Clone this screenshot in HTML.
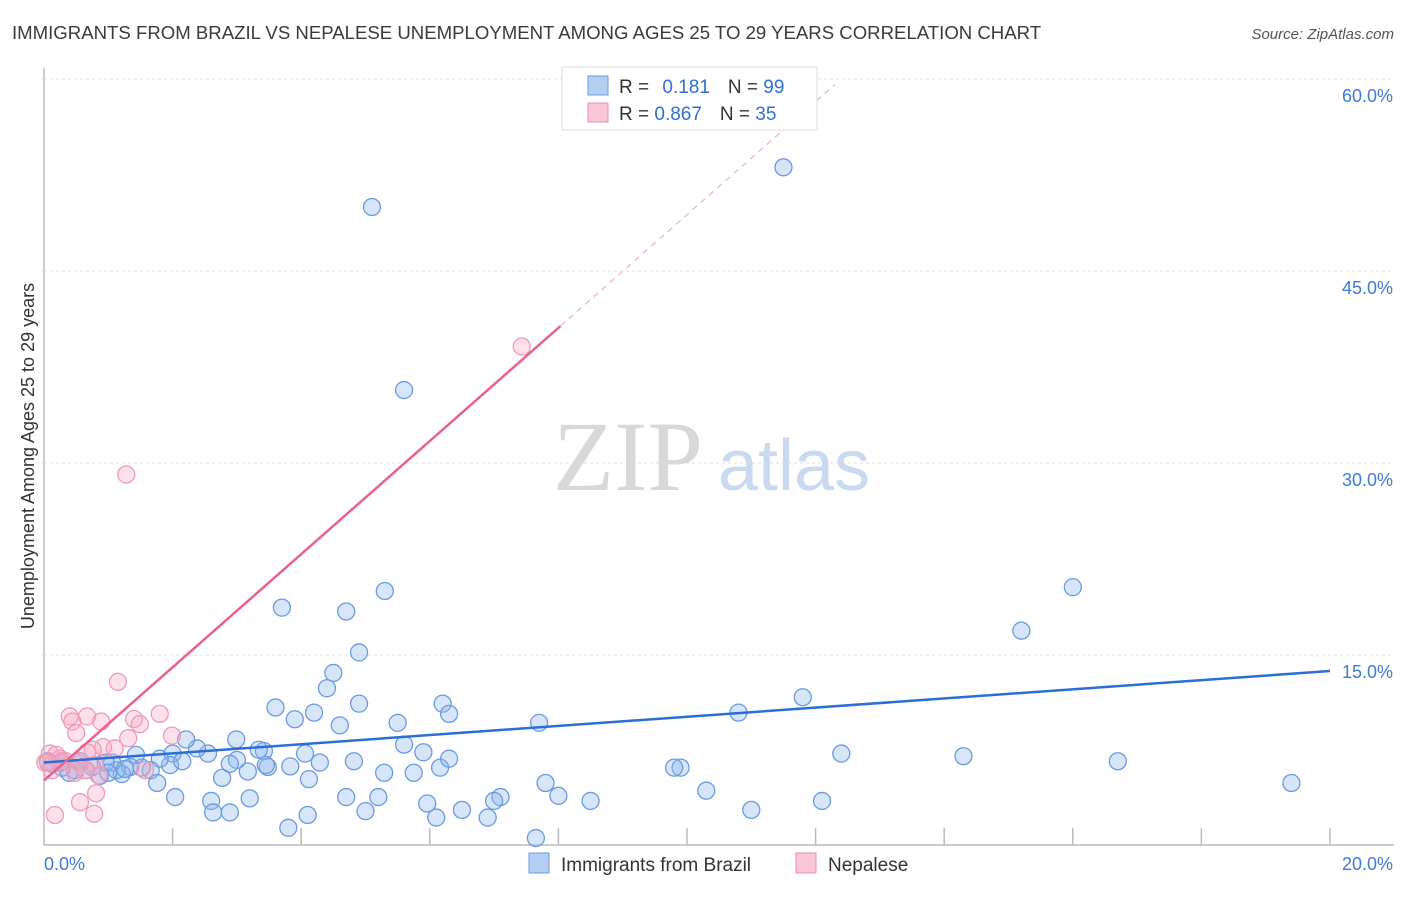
<!DOCTYPE html>
<html><head><meta charset="utf-8"><style>
body{margin:0;background:#fff;font-family:"Liberation Sans",sans-serif}
svg text{font-family:"Liberation Sans",sans-serif}
</style></head><body>
<svg id="c" width="1406" height="892" xmlns="http://www.w3.org/2000/svg">
<text x="12" y="39" font-size="18.6" fill="#3a3a3a">IMMIGRANTS FROM BRAZIL VS NEPALESE UNEMPLOYMENT AMONG AGES 25 TO 29 YEARS CORRELATION CHART</text>
<text x="1394" y="39" font-size="15" fill="#555" font-style="italic" text-anchor="end">Source: ZipAtlas.com</text>
<text x="0" y="0" transform="translate(34,456) rotate(-90)" font-size="18" fill="#333" text-anchor="middle">Unemployment Among Ages 25 to 29 years</text>
<g><text x="553" y="490" font-size="100" style="font-family:'Liberation Serif',serif" fill="#d8d8d8">ZIP</text><text x="718" y="490" font-size="72" fill="#c8d9f0">atlas</text></g>
<g id="grid"></g><g id="marks"></g><g id="lines"></g>
<g>
<rect x="562" y="67" width="255" height="63" fill="#fff" stroke="#ddd"/>
<rect x="588" y="76" width="20" height="19" fill="#b5cff3" stroke="#6a9be0"/>
<rect x="588" y="103" width="20" height="19" fill="#f8c6d6" stroke="#ea8faf"/>
<text x="619" y="93" font-size="19" fill="#333">R = <tspan fill="#2f6fd6" dx="8">0.181</tspan><tspan dx="18" fill="#333">N = </tspan><tspan fill="#2f6fd6">99</tspan></text>
<text x="619" y="120" font-size="19" fill="#333">R = <tspan fill="#2f6fd6">0.867</tspan><tspan dx="18" fill="#333">N = </tspan><tspan fill="#2f6fd6">35</tspan></text>
</g>
<g>
<rect x="529" y="853" width="20" height="20" fill="#b5cff3" stroke="#6a9be0"/>
<text x="561" y="871" font-size="19" fill="#333">Immigrants from Brazil</text>
<rect x="796" y="853" width="20" height="20" fill="#f8c6d6" stroke="#ea8faf"/>
<text x="828" y="871" font-size="19" fill="#333">Nepalese</text>
</g>
</svg>
<script>
const yTicks=[15,30,45,60];
const xTickLabels=["0.0%","20.0%"];
const blueX=[11.5,5.1,5.6,16,3.7,4.7,5.3,15.2,4.9,4.5,4.4,4.9,6.2,6.3,3.6,11.8,10.8,4.2,3.9,5.5,7.7,4.6,5.6,5.9,12.4,14.3,16.7,19.4,9.9,9.8,10.3,7.8,8.0,8.5,11.0,12.1,7.1,7.0,5.2,4.7,5.96,6.5,6.1,6.9,7.65,5.0,4.1,3.8,3.17,3.42,3.34,3.0,2.99,2.55,2.38,2.21,2.0,1.96,2.15,1.8,1.66,1.52,1.43,1.34,1.21,1.13,1.06,0.87,0.96,0.75,0.65,0.48,0.39,0.28,0.12,0.25,0.06,1.0,1.26,1.76,2.04,2.6,2.63,2.89,3.2,2.77,2.89,3.48,3.83,4.12,4.29,4.82,5.29,5.75,6.16,6.3,4.06,3.45,0.56];
const blueY=[53.1,50.0,35.7,20.3,18.7,18.4,20.0,16.9,15.2,13.6,12.4,11.2,11.2,10.4,10.9,11.7,10.5,10.5,9.98,9.7,9.7,9.5,8.0,7.4,7.3,7.1,6.7,5.0,6.2,6.2,4.4,5.0,4.0,3.6,2.9,3.6,3.9,3.6,3.9,3.9,3.4,2.9,2.3,2.3,0.7,2.8,2.5,1.5,5.9,7.5,7.6,6.8,8.4,7.3,7.7,8.4,7.3,6.4,6.7,6.9,6.0,6.2,7.2,6.25,5.7,6.0,6.6,5.55,6.6,6.25,6.0,6.0,5.8,6.2,6.5,6.6,6.7,5.8,6.1,5.0,3.9,3.6,2.7,2.7,3.8,5.4,6.5,6.25,6.3,5.3,6.6,6.7,5.8,5.8,6.2,6.9,7.3,6.4,6.7];
const pinkX=[7.43,1.28,1.15,1.8,0.67,0.4,1.4,0.89,0.44,0.5,1.99,1.31,1.49,0.92,0.76,0.67,1.1,0.25,0.09,0.19,0.34,0.56,0.79,0.02,0.12,0.85,0.48,1.57,0.81,0.56,0.78,0.17,0.28,0.64,0.06];
const pinkY=[39.1,29.1,12.9,10.4,10.2,10.2,10.0,9.8,9.8,8.9,8.7,8.5,9.6,7.8,7.6,7.4,7.7,6.9,7.3,7.2,6.7,6.5,6.4,6.6,6.0,5.6,5.8,6.0,4.2,3.5,2.6,2.5,6.7,6.0,6.6];
</script>
<script>
const svg=document.getElementById('c'),NS="http://www.w3.org/2000/svg";
const X0=44,X1=1330,Y0=847,PY=12.8;
const sx=v=>X0+v/20*(X1-X0), sy=v=>Y0-v*PY;
function mk(t,a,p){const e=document.createElementNS(NS,t);for(const k in a)e.setAttribute(k,a[k]);p.appendChild(e);return e;}
const g=document.getElementById('grid');
const ax=mk('line',{x1:X0,y1:68,x2:X0,y2:845,stroke:'#bbb','stroke-width':1.5},g);


const bx=mk('line',{x1:X0,y1:845,x2:1394,y2:845,stroke:'#bbb','stroke-width':1.5},g);


for(let i=1;i<=10;i++){const t=mk('line',{x1:sx(i*2),y1:828,x2:sx(i*2),y2:845,stroke:'#bbb','stroke-width':1.5},g);

}
yTicks.forEach(v=>{const l=mk('line',{x1:X0,y1:sy(v),x2:1394,y2:sy(v),stroke:'#ddd','stroke-dasharray':'3,3'},g);


const t=mk('text',{x:1393,y:sy(v)+23,'font-size':18,fill:'#3f7ad9','text-anchor':'end'},g);t.textContent=v.toFixed(1)+'%';

});
xTickLabels.forEach((s,i)=>{const t=mk('text',{x:i?1393:44,y:870,'font-size':18,fill:'#3f7ad9','text-anchor':i?'end':'start'},g);t.textContent=s;

});
const m=document.getElementById('marks');
blueX.forEach((v,i)=>{const c=mk('circle',{cx:sx(v),cy:sy(blueY[i]),r:8.5,fill:'rgba(140,180,235,0.35)',stroke:'#6a9be0','stroke-width':1.3},m);

});
pinkX.forEach((v,i)=>{const c=mk('circle',{cx:sx(v),cy:sy(pinkY[i]),r:8.5,fill:'rgba(245,170,195,0.35)',stroke:'#ee9bb8','stroke-width':1.3},m);

});
const L=document.getElementById('lines');
const bl=mk('line',{x1:sx(0),y1:sy(6.6),x2:sx(20),y2:sy(13.75),stroke:'#2b6fd6','stroke-width':2.5},L);


const pk=(v)=>5.2+v*4.42;
const pl=mk('line',{x1:sx(0),y1:sy(pk(0)),x2:sx(8.03),y2:sy(pk(8.03)),stroke:'#e8628e','stroke-width':2.5},L);


const pd=mk('line',{x1:sx(8.03),y1:sy(pk(8.03)),x2:sx(12.3),y2:sy(pk(12.3)),stroke:'#eeb0c4','stroke-width':1.2,'stroke-dasharray':'6,5'},L);


</script>
</body></html>
